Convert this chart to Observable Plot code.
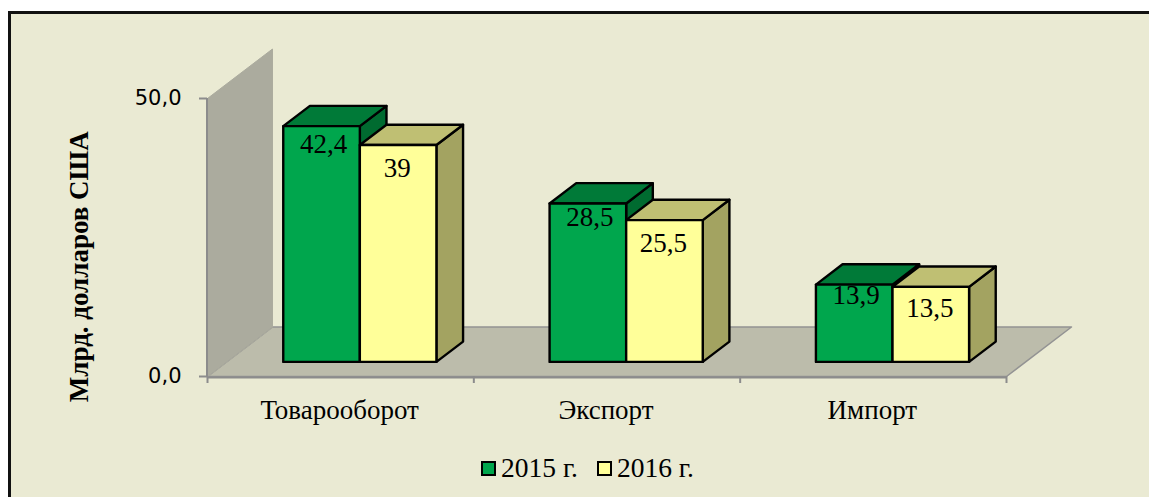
<!DOCTYPE html>
<html lang="ru">
<head>
<meta charset="utf-8">
<script src="https://cdn.jsdelivr.net/npm/d3@7"></script>
<script src="https://cdn.jsdelivr.net/npm/@observablehq/plot@0.6"></script>
<style>
  html, body { margin: 0; padding: 0; background: #fff; }
  body { position: relative; width: 1149px; height: 497px; overflow: hidden; }
  body::before {
    content: ""; position: absolute; left: 8px; top: 11px; right: 0; bottom: 0;
    background: #EAEAD3; border-left: 3px solid #111; border-top: 3px solid #111; box-sizing: border-box;
  }
  #chart { position: absolute; left: 0; top: 0; }
  #legend {
    position: absolute; left: 481px; top: 453px; display: flex; align-items: center;
    font: 27.5px "Liberation Serif", serif; color: #000; line-height: 30px;
  }
  #legend i { display: inline-block; width: 11px; height: 11px; border: 2px solid #000; margin-right: 5px; }
  #legend span { margin-right: 19px; display: inline-flex; align-items: center; white-space: nowrap; }
</style>
</head>
<body>
<div id="chart"></div>
<div id="legend"></div>
<script>
const categories = ["Товарооборот", "Экспорт", "Импорт"];
const seriesNames = ["2015 г.", "2016 г."];
const values2015 = [42.4, 28.5, 13.9];
const values2016 = [39, 25.5, 13.5];
const axisMax = 50;
const yTitle = "Млрд. долларов США";

// Oblique projection: one unit of depth, expressed in data units
const depthX = 65 / 266.4;
const depthY = 49.5 / 5.56;
const P = (x, v, d = 0) => ({x: x + d * depthX, y: v + d * depthY});
const face = (pts, fill, stroke, strokeWidth) =>
  Plot.line(pts, {x: "x", y: "y", curve: "linear-closed", fill, stroke, strokeWidth});

// Bar layout in category units and depth units
const barW = 76.6 / 266.4, d0 = 0.295, d1 = 0.705;
const greens = {front: "#00A64D", top: "#007A38", side: "#006B30"};
const yellows = {front: "#FFFF99", top: "#BFBF73", side: "#A3A361"};

function bar(xl, v, c) {
  const xr = xl + barW;
  return [
    face([P(xr, 0, d0), P(xr, 0, d1), P(xr, v, d1), P(xr, v, d0)], c.side, "#000", 2.4),
    face([P(xl, v, d0), P(xr, v, d0), P(xr, v, d1), P(xl, v, d1)], c.top, "#000", 2.4),
    face([P(xl, 0, d0), P(xr, 0, d0), P(xr, v, d0), P(xl, v, d0)], c.front, "#000", 2.4)
  ];
}

const barMarks = categories.flatMap((_, i) => {
  const mid = i + 0.5;
  return [...bar(mid - barW, values2015[i], greens), ...bar(mid, values2016[i], yellows)];
});

const comma = v => String(v).replace(".", ",");
const serif = "Liberation Serif";
// Hand-placed data labels of the reference: distance below the bar top, in pixels
const nudge2015 = [18, 14, 11];
const nudge2016 = [23, 23, 22];
const valueLabel = (v, xc, dy, dx) => {
  const p = P(xc, v, d0);
  return Plot.text([comma(v)], {
    x: p.x, y: p.y, dy, dx, text: d => d,
    fontSize: 27, fontFamily: serif, fill: "#000"
  });
};
const labelMarks = categories.flatMap((_, i) => [
  valueLabel(values2015[i], i + 0.5 - barW / 2, nudge2015[i], 2),
  valueLabel(values2016[i], i + 0.5 + barW / 2, nudge2016[i], -1)
]);

const chart = Plot.plot({
  width: 1149, height: 445,
  marginLeft: 207, marginRight: 143, marginTop: 98, marginBottom: 69,
  style: {background: "transparent", overflow: "visible"},
  x: {type: "linear", domain: [0, 3], axis: null},
  y: {domain: [0, axisMax], axis: null},
  marks: [
    face([P(0, 0), P(3, 0), P(3, 0, 1), P(0, 0, 1)], "#BCBCAB", "#939393", 1.5),
    face([P(0, 0), P(0, axisMax), P(0, axisMax, 1), P(0, 0, 1)], "#ABAB9E", "#ABAB9E", 1),
    Plot.axisY({
      ticks: [0, axisMax], tickFormat: d => d.toFixed(1).replace(".", ","),
      tickSize: 8, tickPadding: 18, stroke: "#8C8C8C", strokeWidth: 2,
      fontSize: 21, fontFamily: "DejaVu Sans", color: "#000", label: null
    }),
    Plot.ruleX([0], {y1: 0, y2: axisMax, stroke: "#8C8C8C", strokeWidth: 2, dx: -0.5}),
    Plot.ruleY([0], {x1: 0, x2: 3, stroke: "#8C8C8C", strokeWidth: 2, dy: 1}),
    Plot.axisX({
      ticks: [0, 1, 2, 3], tickFormat: () => "", tickSize: 7,
      stroke: "#8C8C8C", strokeWidth: 2, label: null
    }),
    ...barMarks,
    ...labelMarks,
    Plot.text(categories, {
      x: (d, i) => i + 0.5, y: 0, dx: -1, dy: 34, text: d => d,
      fontSize: 27, fontFamily: serif, fill: "#000"
    }),
    Plot.text([yTitle], {
      x: 0, y: axisMax * 0.395, dx: -128, text: d => d, rotate: -90,
      fontSize: 27, fontWeight: "bold", fontFamily: serif, fill: "#000"
    })
  ]
});
document.getElementById("chart").append(chart);

const legend = document.getElementById("legend");
[greens.front, yellows.front].forEach((color, i) => {
  const s = document.createElement("span");
  const sw = document.createElement("i");
  sw.style.background = color;
  s.append(sw, seriesNames[i]);
  legend.append(s);
});
</script>
</body>
</html>
